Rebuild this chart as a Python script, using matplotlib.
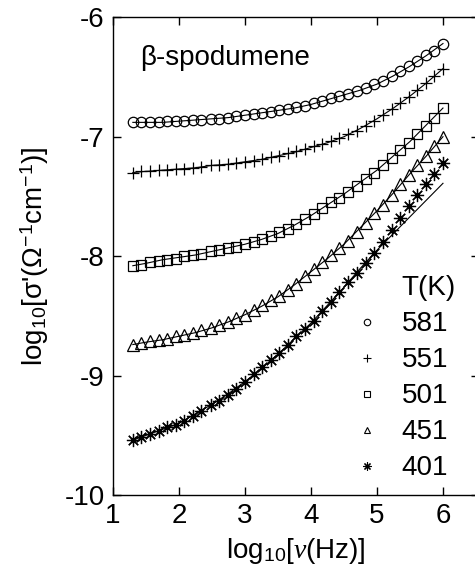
import matplotlib
matplotlib.use('Agg')
from matplotlib import pyplot as plt
from matplotlib.lines import Line2D

plt.rcParams['font.family'] = ['Liberation Sans', 'DejaVu Sans']
plt.rcParams['mathtext.fontset'] = 'custom'
plt.rcParams['mathtext.rm'] = 'Liberation Sans'
plt.rcParams['mathtext.it'] = 'Liberation Serif:italic'
plt.rcParams['mathtext.sf'] = 'Liberation Sans'
plt.rcParams['axes.unicode_minus'] = False

# measured points, log10(frequency)
log_f = [1.30, 1.43, 1.56, 1.69, 1.82, 1.95, 2.08, 2.21, 2.34, 2.48, 2.61, 2.74, 2.87,
         3.00, 3.13, 3.26, 3.39, 3.52, 3.65, 3.78, 3.91, 4.04, 4.17, 4.30, 4.43, 4.56,
         4.69, 4.83, 4.96, 5.09, 5.22, 5.35, 5.48, 5.61, 5.74, 5.87, 6.00]

sig_581 = [-6.88, -6.88, -6.88, -6.88, -6.87, -6.87, -6.87, -6.86, -6.86, -6.85, -6.85, -6.84, -6.83,
           -6.82, -6.81, -6.80, -6.79, -6.78, -6.77, -6.75, -6.74, -6.72, -6.70, -6.68, -6.66, -6.64,
           -6.62, -6.59, -6.56, -6.53, -6.49, -6.45, -6.41, -6.37, -6.32, -6.28, -6.22]
sig_551 = [-7.30, -7.29, -7.29, -7.28, -7.28, -7.27, -7.27, -7.26, -7.25, -7.24, -7.24, -7.23, -7.22,
           -7.21, -7.20, -7.19, -7.17, -7.16, -7.14, -7.12, -7.10, -7.08, -7.06, -7.04, -7.01, -6.98,
           -6.95, -6.91, -6.87, -6.82, -6.77, -6.72, -6.67, -6.61, -6.55, -6.49, -6.43]
sig_501 = [-8.08, -8.07, -8.05, -8.04, -8.03, -8.02, -8.00, -7.99, -7.98, -7.96, -7.95, -7.93, -7.92,
           -7.90, -7.88, -7.86, -7.83, -7.80, -7.77, -7.73, -7.69, -7.65, -7.60, -7.55, -7.51, -7.46,
           -7.41, -7.35, -7.30, -7.24, -7.18, -7.11, -7.05, -6.98, -6.91, -6.84, -6.76]
sig_451 = [-8.74, -8.73, -8.71, -8.70, -8.69, -8.67, -8.66, -8.64, -8.62, -8.60, -8.58, -8.55, -8.52,
           -8.49, -8.45, -8.41, -8.37, -8.33, -8.28, -8.23, -8.17, -8.11, -8.05, -7.99, -7.93, -7.87,
           -7.80, -7.72, -7.64, -7.57, -7.49, -7.40, -7.32, -7.24, -7.16, -7.08, -7.00]
sig_401 = [-9.54, -9.51, -9.49, -9.46, -9.43, -9.41, -9.38, -9.34, -9.30, -9.25, -9.21, -9.16, -9.11,
           -9.05, -8.99, -8.93, -8.87, -8.81, -8.74, -8.67, -8.61, -8.54, -8.46, -8.38, -8.30, -8.22,
           -8.14, -8.06, -7.97, -7.88, -7.78, -7.68, -7.58, -7.49, -7.40, -7.31, -7.22]

# fitted curves
fit_f = [1.3, 1.5, 1.75, 2.0, 2.25, 2.5, 2.75, 3.0, 3.25, 3.5, 3.75, 4.0, 4.25, 4.5, 4.75,
         5.0, 5.25, 5.5, 5.75, 6.0]
fit_581 = [-6.88, -6.88, -6.88, -6.87, -6.86, -6.85, -6.84, -6.82, -6.80, -6.78, -6.76, -6.73,
           -6.69, -6.65, -6.61, -6.56, -6.49, -6.41, -6.32, -6.22]
fit_551 = [-7.30, -7.29, -7.28, -7.27, -7.26, -7.24, -7.23, -7.21, -7.19, -7.16, -7.13, -7.09,
           -7.05, -7.00, -6.93, -6.85, -6.76, -6.66, -6.55, -6.43]
fit_501 = [-8.08, -8.06, -8.03, -8.01, -7.99, -7.96, -7.93, -7.90, -7.86, -7.81, -7.74, -7.66,
           -7.57, -7.48, -7.38, -7.28, -7.16, -7.04, -6.90, -6.76]
fit_451 = [-8.74, -8.72, -8.70, -8.67, -8.64, -8.60, -8.55, -8.49, -8.42, -8.34, -8.24, -8.13,
           -8.02, -7.90, -7.76, -7.62, -7.47, -7.31, -7.16, -7.00]
fit_401 = [-9.54, -9.50, -9.45, -9.40, -9.32, -9.24, -9.15, -9.05, -8.94, -8.82, -8.69, -8.56,
           -8.41, -8.26, -8.10, -7.95, -7.81, -7.67, -7.53, -7.39]

temps = ['581', '551', '501', '451', '401']
ast = (8, 2, 0)
series = [(sig_581, fit_581, 'o', 7.5), (sig_551, fit_551, '+', 8.5), (sig_501, fit_501, 's', 7.0),
          (sig_451, fit_451, '^', 8.0), (sig_401, fit_401, ast, 9.5)]

fig = plt.figure(figsize=(4.75, 5.75), dpi=100)
ax = fig.add_axes([0.238, 0.139, 0.771, 0.831])

for sig, fit, mk, ms in series:
    ax.plot(fit_f, fit, color='black', lw=0.8)
    ax.plot(log_f, sig, linestyle='none', marker=mk, ms=ms, mfc='none', mec='black', mew=0.9)
ax.plot(log_f, sig_401, linestyle='none', marker='o', ms=3, mfc='black', mec='black')

ax.set_xlim(1, 6.55)
ax.set_ylim(-10, -6)
ax.set_xticks([1, 2, 3, 4, 5, 6])
ax.set_yticks([-10, -9, -8, -7, -6])
ax.tick_params(direction='in', length=6, width=1, labelsize=20, top=True, right=True, pad=6)
for s in ax.spines.values():
    s.set_linewidth(1.0)

ax.set_xlabel(r'log$_{10}$[$\nu$(Hz)]', fontsize=20, labelpad=5)
ax.set_ylabel("log$_{10}$[σ'(Ω$^{-1}$cm$^{-1}$)]", fontsize=20, labelpad=10)

ax.text(0.074, 0.915, 'β-spodumene', transform=ax.transAxes, fontsize=20, va='center')

handles = [Line2D([], [], linestyle='none')]
for sig, fit, mk, ms in series:
    handles.append(Line2D([], [], linestyle='none', marker=mk, ms=ms * 0.62, mfc='none',
                          mec='black', mew=0.8))
ax.legend(handles, ['T(K)'] + temps, loc='lower left', bbox_to_anchor=(0.594, -0.018), frameon=False,
          fontsize=20, handlelength=1.0, handletextpad=0.75, labelspacing=0.36, borderpad=0.3)

fig.savefig('out.png', dpi=100)
